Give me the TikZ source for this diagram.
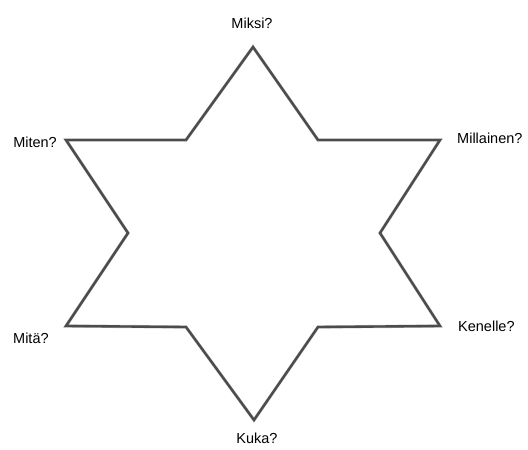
\documentclass[tikz,border=0pt]{standalone}
\usepackage{fontspec}
\setmainfont{Liberation Sans}
\tikzset{
  lbl/.style={font=\fontsize{14.5}{17}\selectfont, inner sep=0pt, text=black},
  starline/.style={draw=black!70, line width=2.4pt, line join=miter},
  starshadow/.style={draw=black!25, line width=3.2pt, line join=miter}
}
\begin{document}
\begin{tikzpicture}[x=1pt,y=-1pt]
\useasboundingbox (0,0) rectangle (528,450);
\coordinate (T) at (253,47);
\coordinate (IUR) at (318,140);
\coordinate (OUR) at (440,140);
\coordinate (IR) at (380,233);
\coordinate (OLR) at (440,326);
\coordinate (ILR) at (318,327);
\coordinate (B) at (254,420);
\coordinate (ILL) at (186,327);
\coordinate (OLL) at (66,326);
\coordinate (IL) at (128,233);
\coordinate (OUL) at (66,140);
\coordinate (IUL) at (186,140);
\begin{scope}[shift={(1.2,1.2)}]
\draw[starshadow] (T) -- (IUR) -- (OUR) -- (IR) -- (OLR) -- (ILR) -- (B) -- (ILL) -- (OLL) -- (IL) -- (OUL) -- (IUL) -- cycle;
\end{scope}
\draw[starline] (T) -- (IUR) -- (OUR) -- (IR) -- (OLR) -- (ILR) -- (B) -- (ILL) -- (OLL) -- (IL) -- (OUL) -- (IUL) -- cycle;
\node[lbl] (miksi) at (252,23) {Miksi?};
\node[lbl, anchor=west] (millainen) at (457,138) {Millainen?};
\node[lbl, anchor=west] (kenelle) at (458,326) {Kenelle?};
\node[lbl] (kuka) at (257,438) {Kuka?};
\node[lbl, anchor=west] (mita) at (13,338) {Mitä?};
\node[lbl, anchor=east] (miten) at (57,142) {Miten?};
\end{tikzpicture}
\end{document}
